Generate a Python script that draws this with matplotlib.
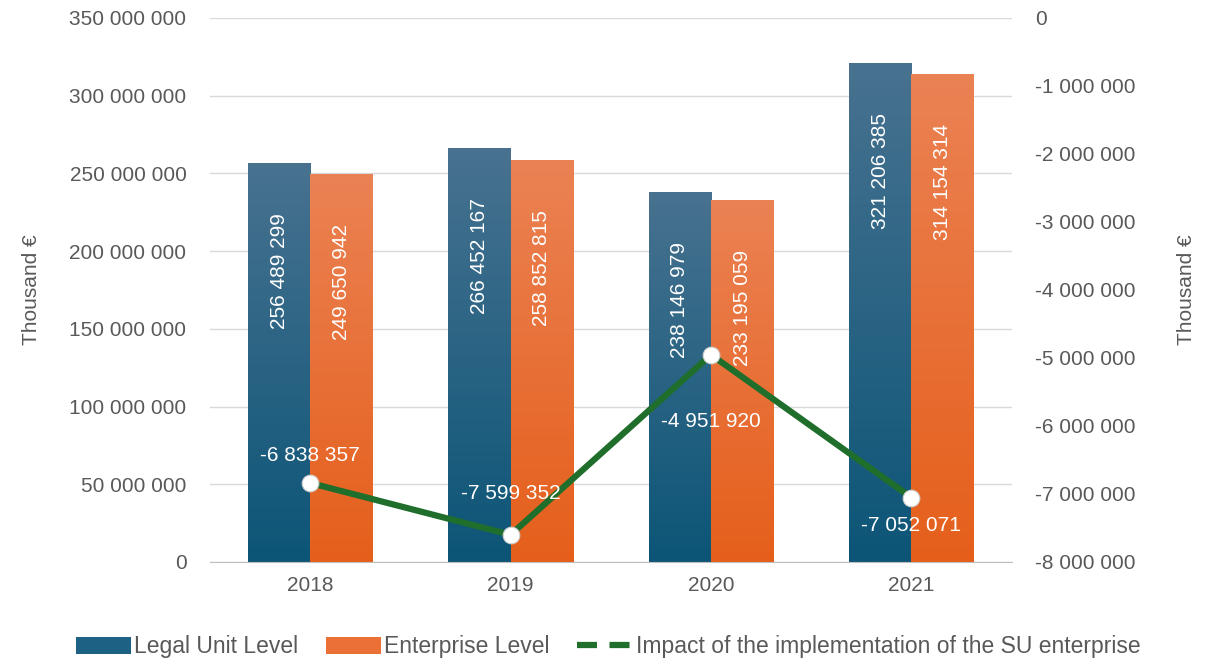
import numpy as np
import matplotlib.pyplot as plt
from matplotlib.ticker import FuncFormatter, MultipleLocator
from matplotlib.patches import Patch
from matplotlib.lines import Line2D

years = ["2018", "2019", "2020", "2021"]
legal_unit = [256489299, 266452167, 238146979, 321206385]
enterprise = [249650942, 258852815, 233195059, 314154314]
impact = [-6838357, -7599352, -4951920, -7052071]

plt.rcParams["font.family"] = ["Liberation Sans", "DejaVu Sans"]
plt.rcParams["axes.unicode_minus"] = False

GRAY = "#595959"
GREEN = "#1f6e2b"
FS = 15


def fmt(v):
    return f"{int(v):,}".replace(",", " ")


def gradient_bar(ax, bar, top_rgb, bottom_rgb):
    x0, y0 = bar.get_x(), bar.get_y()
    x1, y1 = x0 + bar.get_width(), y0 + bar.get_height()
    t = np.linspace(0, 1, 256)[:, None]
    top = np.array(top_rgb) / 255
    bot = np.array(bottom_rgb) / 255
    img = (bot * (1 - t) + top * t)[:, None, :]
    im = ax.imshow(img, extent=[x0, x1, y0, y1], origin="lower",
                   aspect="auto", zorder=2)
    im.set_clip_path(bar)


fig = plt.figure(figsize=(12.09, 6.59), dpi=100)
ax = fig.add_axes([0.1737, 0.1472, 0.663, 0.8255])
ax2 = ax.twinx()

x = np.arange(len(years))
w = 0.31
bars1 = ax.bar(x - w / 2, legal_unit, w, color="none", edgecolor="none", zorder=2)
bars2 = ax.bar(x + w / 2, enterprise, w, color="none", edgecolor="none", zorder=2)
for b in bars1:
    gradient_bar(ax, b, (72, 114, 144), (12, 85, 119))
for b in bars2:
    gradient_bar(ax, b, (235, 130, 84), (229, 95, 27))

for bars, vals in [(bars1, legal_unit), (bars2, enterprise)]:
    for b, v in zip(bars, vals):
        ax.annotate(fmt(v), (b.get_x() + b.get_width() / 2, v),
                    xytext=(0, -36), textcoords="offset points",
                    rotation=90, ha="center", va="top",
                    color="white", fontsize=FS, zorder=3)

ax.set_xlim(-0.5, 3.5)
ax.set_ylim(0, 350000000)
ax.yaxis.set_major_locator(MultipleLocator(50000000))
ax.yaxis.set_major_formatter(FuncFormatter(lambda v, p: fmt(v)))
ax.set_xticks(x)
ax.set_xticklabels(years)
ax.grid(axis="y", color="#d9d9d9", lw=1, zorder=0)
ax.set_axisbelow(True)
for s in ["top", "left", "right"]:
    ax.spines[s].set_visible(False)
ax.spines["bottom"].set_color("#bfbfbf")
ax.tick_params(axis="both", length=0, colors=GRAY, labelsize=FS)
ax.tick_params(axis="y", pad=17)
ax.tick_params(axis="x", pad=10)
ax.set_ylabel("Thousand €", color=GRAY, fontsize=FS, labelpad=20)

ax2.plot(x, impact, color=GREEN, lw=4.5, zorder=4, solid_joinstyle="miter")
ax2.plot(x, impact, ls="none", marker="o", ms=12, mfc="white",
         mec="#cfcfcf", mew=0.8, zorder=5)
offsets = [20, 30, -48, -20]
for xi, v, off in zip(x, impact, offsets):
    ax2.annotate(fmt(v), (xi, v), xytext=(0, off), textcoords="offset points",
                 ha="center", va="center", color="white", fontsize=FS,
                 zorder=6)
ax2.set_ylim(-8000000, 0)
ax2.yaxis.set_major_locator(MultipleLocator(1000000))
ax2.yaxis.set_major_formatter(FuncFormatter(lambda v, p: fmt(v)))
for s in ["top", "left", "right", "bottom"]:
    ax2.spines[s].set_visible(False)
ax2.tick_params(axis="y", length=0, colors=GRAY, labelsize=FS, pad=17)
ax2.set_ylabel("Thousand €", color=GRAY, fontsize=FS, labelpad=30)

handles = [
    Patch(facecolor="#1d6185", label="Legal Unit Level"),
    Patch(facecolor="#ea7035", label="Enterprise Level"),
    Line2D([0], [0], color=GREEN, lw=4.5, ls=(0, (3.2, 2)),
           label="Impact of the implementation of the SU enterprise"),
]
fig.legend(handles=handles, loc="lower center", bbox_to_anchor=(0.503, -0.03),
           ncol=3, frameon=False, prop={"size": 16.5}, labelcolor=GRAY,
           handlelength=2.4, handleheight=0.75, handletextpad=0.15,
           columnspacing=1.2)

fig.savefig("out.png", dpi=100)
